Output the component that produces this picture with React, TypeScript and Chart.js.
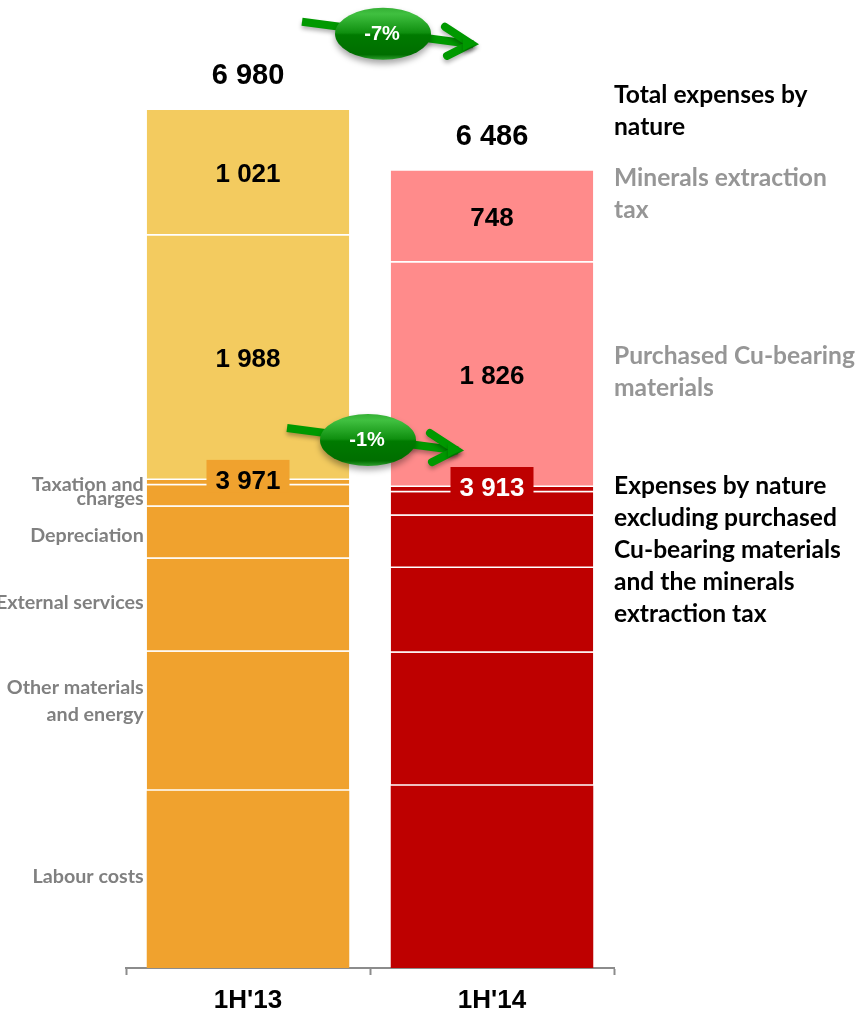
import React, { useEffect, useRef } from "react";
import { Chart, registerables } from "chart.js";

Chart.register(...registerables);

const categories = ["1H'13", "1H'14"];
const labourCosts = [1442, 1483];
const otherMaterialsEnergy = [1131, 1082];
const externalServices = [757, 689];
const depreciation = [423, 426];
const taxationCharges = [174, 190];
const otherCosts = [44, 43];
const purchasedCuMaterials = [1988, 1826];
const mineralsTax = [1021, 748];
const totals = [6980, 6486];
const subtotals = [3971, 3913];
const changes = ["-7%", "-1%"];

const ORANGE = "#F0A22E";
const RED = "#BE0000";
const YELLOW = "#F3CB5F";
const PINK = "#FF8B8B";
const SANS = '"Liberation Sans", Arial, sans-serif';
const SIDE = 'Lato, "Open Sans", sans-serif';

const fmt = (n: number) => String(n).replace(/\B(?=(\d{3})+$)/g, " ");

const leftLabels = [
  { lines: ["Labour costs"], ds: 0, dy: -3 },
  { lines: ["Other materials", "and energy"], ds: 1, dy: -20, lh: 27 },
  { lines: ["External services"], ds: 2, dy: -3 },
  { lines: ["Depreciation"], ds: 3, dy: 3 },
  { lines: ["Taxation and", "charges"], ds: 4, dy: -4, lh: 14 },
];

const sideLabels = [
  { lines: ["Total expenses by", "nature"], value: 6968, color: "#000000" },
  { lines: ["Minerals extraction", "tax"], value: 6293, color: "#969696" },
  { lines: ["Purchased Cu-bearing", "materials"], value: 4849, color: "#969696" },
  {
    lines: ["Expenses by nature", "excluding purchased", "Cu-bearing materials", "and the minerals", "extraction tax"],
    value: 3396,
    color: "#000000",
  },
];

function drawArrow(ctx: CanvasRenderingContext2D, label: string, cx: number, cy: number) {
  const sx = cx - 81, sy = cy - 12;
  const tx = cx + 94, ty = cy + 11;
  ctx.save();
  ctx.shadowColor = "rgba(0,0,0,0.3)";
  ctx.shadowBlur = 4;
  ctx.shadowOffsetY = 3;
  ctx.strokeStyle = "#009900";
  ctx.lineWidth = 8;
  ctx.beginPath();
  ctx.moveTo(sx, sy);
  ctx.lineTo(tx - 4, ty - 0.5);
  ctx.stroke();
  ctx.lineCap = "round";
  ctx.beginPath();
  ctx.moveTo(tx - 32, ty - 18);
  ctx.lineTo(tx - 6, ty - 1);
  ctx.lineTo(tx - 30, ty + 11);
  ctx.stroke();
  ctx.fillStyle = "#009900";
  ctx.beginPath();
  ctx.moveTo(tx, ty - 1);
  ctx.lineTo(tx - 14, ty - 9);
  ctx.lineTo(tx - 14, ty + 6);
  ctx.closePath();
  ctx.fill();

  ctx.shadowColor = "rgba(0,0,0,0.35)";
  ctx.shadowBlur = 6;
  ctx.shadowOffsetY = 4;
  const g = ctx.createLinearGradient(0, cy - 26, 0, cy + 26);
  g.addColorStop(0, "#35B035");
  g.addColorStop(0.12, "#40C040");
  g.addColorStop(0.48, "#0F8F0F");
  g.addColorStop(0.52, "#007A00");
  g.addColorStop(0.9, "#006E00");
  g.addColorStop(1, "#2FA02F");
  ctx.fillStyle = g;
  ctx.beginPath();
  ctx.ellipse(cx, cy, 48, 26, 0, 0, Math.PI * 2);
  ctx.fill();
  ctx.shadowColor = "transparent";
  ctx.fillStyle = "#FFFFFF";
  ctx.font = `bold 20px ${SANS}`;
  ctx.textAlign = "center";
  ctx.textBaseline = "middle";
  ctx.fillText(label, cx - 1, cy + 0.5);
  ctx.restore();
}

const labelsPlugin = {
  id: "labelsPlugin",
  afterDraw(chart: any) {
    const { ctx, scales, chartArea } = chart;
    const y = scales.y;
    const x = scales.x;
    const cum = (ds: number, i: number) => {
      let s = 0;
      for (let k = 0; k <= ds; k++) s += chart.data.datasets[k].data[i];
      return s;
    };
    const mid = (ds: number, i: number) => cum(ds, i) - chart.data.datasets[ds].data[i] / 2;
    ctx.save();
    ctx.textBaseline = "middle";
    ctx.textAlign = "center";

    categories.forEach((_c, i) => {
      const cx = x.getPixelForValue(i);
      ctx.fillStyle = "#000000";
      ctx.font = `bold 29px ${SANS}`;
      ctx.fillText(fmt(totals[i]), cx, y.getPixelForValue(totals[i]) - 34);
      ctx.font = `bold 26px ${SANS}`;
      ctx.fillText(fmt(mineralsTax[i]), cx, y.getPixelForValue(mid(7, i)) + 2);
      ctx.fillText(fmt(purchasedCuMaterials[i]), cx, y.getPixelForValue(mid(6, i)) + 2);
      const sy = y.getPixelForValue(subtotals[i]);
      ctx.fillStyle = i === 0 ? ORANGE : RED;
      ctx.fillRect(cx - 41.5, sy - 20, 83, 33);
      ctx.fillStyle = i === 0 ? "#000000" : "#FFFFFF";
      ctx.fillText(fmt(subtotals[i]), cx, sy + 1.5);
    });

    const bar = chart.getDatasetMeta(0).data[0];
    const labelRight = bar.x - bar.width / 2 - 3;
    ctx.fillStyle = "#808080";
    ctx.font = `bold 19.7px ${SIDE}`;
    ctx.textAlign = "right";
    leftLabels.forEach((l) => {
      const c = y.getPixelForValue(mid(l.ds, 0)) + l.dy;
      const lh = l.lh ?? 0;
      l.lines.forEach((t, k) => {
        ctx.fillText(t, labelRight, c + (k - (l.lines.length - 1) / 2) * lh);
      });
    });

    ctx.textAlign = "left";
    ctx.font = `bold 24.6px ${SIDE}`;
    sideLabels.forEach((l) => {
      ctx.fillStyle = l.color;
      const c = y.getPixelForValue(l.value);
      l.lines.forEach((t, k) => {
        ctx.fillText(t, chartArea.right, c + (k - (l.lines.length - 1) / 2) * 32);
      });
    });

    const between = (x.getPixelForValue(0) + x.getPixelForValue(1)) / 2;
    drawArrow(ctx, changes[0], between + 13, y.getPixelForValue(7600));
    drawArrow(ctx, changes[1], between - 2, y.getPixelForValue(4295));
    ctx.restore();
  },
};

export default function App() {
  const ref = useRef<HTMLCanvasElement | null>(null);
  useEffect(() => {
    document.body.style.margin = "0";
    const mk = (label: string, data: number[], colors: string[], line = true) => ({
      label,
      data,
      backgroundColor: colors,
      borderColor: "#FFFFFF",
      borderWidth: line ? { top: 0, left: 0, right: 0, bottom: 1.5 } : 0,
      borderSkipped: false,
      barPercentage: 0.83,
      categoryPercentage: 1,
      stack: "a",
    });
    const low = [ORANGE, RED];
    const high = [YELLOW, PINK];
    const chart = new Chart(ref.current!, {
      type: "bar",
      data: {
        labels: categories,
        datasets: [
          mk("Labour costs", labourCosts, low, false),
          mk("Other materials and energy", otherMaterialsEnergy, low),
          mk("External services", externalServices, low),
          mk("Depreciation", depreciation, low),
          mk("Taxation and charges", taxationCharges, low),
          mk("Other", otherCosts, low),
          mk("Purchased Cu-bearing materials", purchasedCuMaterials, high),
          mk("Minerals extraction tax", mineralsTax, high),
        ],
      },
      options: {
        responsive: false,
        animation: false,
        layout: { padding: { left: 126, right: 245, top: 0, bottom: 0 } },
        plugins: { legend: { display: false }, tooltip: { enabled: false } },
        scales: {
          x: {
            stacked: true,
            offset: true,
            afterFit: (s: any) => {
              s.height = 44;
            },
            border: { display: true, color: "#8C8C8C", width: 2 },
            grid: {
              display: true,
              drawOnChartArea: false,
              drawTicks: true,
              tickLength: 7,
              tickColor: "#8C8C8C",
              tickWidth: 2,
              offset: true,
            },
            ticks: {
              color: "#000000",
              font: { family: SANS, size: 26, weight: "bold" },
              padding: 10,
              maxRotation: 0,
            },
          },
          y: { stacked: true, display: false, min: 0, max: 7875 },
        },
      },
      plugins: [labelsPlugin],
    } as any);
    return () => chart.destroy();
  }, []);
  return (
    <div style={{ position: "absolute", left: 0, top: 0, width: 859, height: 1012, overflow: "hidden", background: "#fff" }}>
      <canvas ref={ref} width={859} height={1012} style={{ display: "block" }} />
    </div>
  );
}
